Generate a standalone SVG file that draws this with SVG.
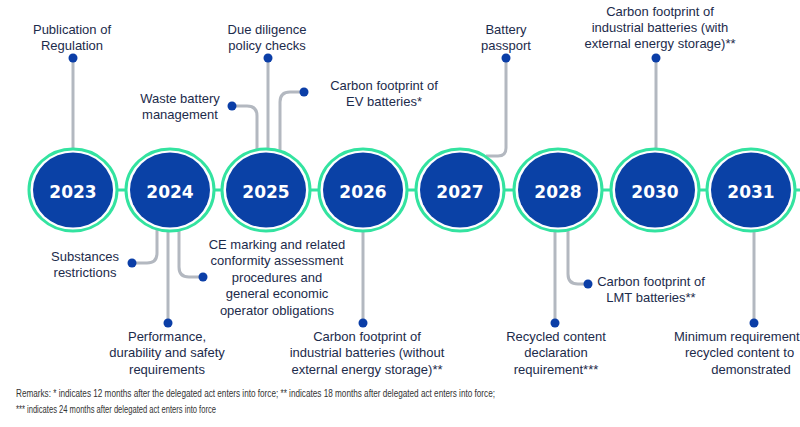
<svg xmlns="http://www.w3.org/2000/svg" width="800" height="427" viewBox="0 0 800 427">
<defs>
<style>
.lbl{font-family:"Liberation Sans",Arial,sans-serif;font-size:13px;fill:#1c2b4b;text-anchor:middle}
.yr{font-family:"DejaVu Sans",sans-serif;font-weight:bold;font-size:17px;fill:#ffffff;text-anchor:middle}
.conn{fill:none;stroke:#b3b8c0;stroke-width:3}
.tl{fill:none;stroke:#33e3a0;stroke-width:3}
.dot{fill:#0b3ea7}
.ring{fill:#ffffff;stroke:#33e3a0;stroke-width:3}
.core{fill:#0a41a6}
.rem{font-family:"Liberation Sans",Arial,sans-serif;font-size:11px;fill:#333333}
</style>
</defs>
<rect width="800" height="427" fill="#ffffff"/>
<g id="connectors">
<line class="tl" x1="73" y1="190" x2="800" y2="190"/>
<path class="conn" d="M73,58 V150"/>
<path class="conn" d="M232,106 H247 Q257,106 257,116 V150"/>
<path class="conn" d="M268,58 V150"/>
<path class="conn" d="M304,92 H290 Q280,92 280,102 V150"/>
<path class="conn" d="M506,58 V148 Q506,156 498,156 H486"/>
<path class="conn" d="M656,58 V150"/>
<path class="conn" d="M157,228 V253 Q157,263 147,263 H132"/>
<path class="conn" d="M168,228 V323"/>
<path class="conn" d="M179,228 V267 Q179,277 189,277 H203"/>
<path class="conn" d="M363,228 V323"/>
<path class="conn" d="M555,228 V323"/>
<path class="conn" d="M568,228 V274 Q568,284 578,284 H588"/>
<path class="conn" d="M754,228 V323"/>
</g>
<g id="y2023"><ellipse class="ring" cx="73" cy="190" rx="44" ry="41"/><ellipse class="core" cx="73" cy="190" rx="40" ry="37.5"/><text class="yr" x="73" y="198">2023</text></g>
<g id="y2024"><ellipse class="ring" cx="170" cy="190" rx="44" ry="41"/><ellipse class="core" cx="170" cy="190" rx="40" ry="37.5"/><text class="yr" x="170" y="198">2024</text></g>
<g id="y2025"><ellipse class="ring" cx="266" cy="190" rx="44" ry="41"/><ellipse class="core" cx="266" cy="190" rx="40" ry="37.5"/><text class="yr" x="266" y="198">2025</text></g>
<g id="y2026"><ellipse class="ring" cx="363" cy="190" rx="44" ry="41"/><ellipse class="core" cx="363" cy="190" rx="40" ry="37.5"/><text class="yr" x="363" y="198">2026</text></g>
<g id="y2027"><ellipse class="ring" cx="460" cy="190" rx="44" ry="41"/><ellipse class="core" cx="460" cy="190" rx="40" ry="37.5"/><text class="yr" x="460" y="198">2027</text></g>
<g id="y2028"><ellipse class="ring" cx="558" cy="190" rx="44" ry="41"/><ellipse class="core" cx="558" cy="190" rx="40" ry="37.5"/><text class="yr" x="558" y="198">2028</text></g>
<g id="y2030"><ellipse class="ring" cx="655" cy="190" rx="44" ry="41"/><ellipse class="core" cx="655" cy="190" rx="40" ry="37.5"/><text class="yr" x="655" y="198">2030</text></g>
<g id="y2031"><ellipse class="ring" cx="751" cy="190" rx="44" ry="41"/><ellipse class="core" cx="751" cy="190" rx="40" ry="37.5"/><text class="yr" x="751" y="198">2031</text></g>

<g id="ev-publication"><circle class="dot" cx="73" cy="58" r="4.5"/><text class="lbl" x="72" y="34">Publication of</text><text class="lbl" x="72" y="50">Regulation</text></g>
<g id="ev-due-diligence"><circle class="dot" cx="268" cy="58" r="4.5"/><text class="lbl" x="267" y="34">Due diligence</text><text class="lbl" x="267" y="50">policy checks</text></g>
<g id="ev-waste"><circle class="dot" cx="232" cy="106" r="4.5"/><text class="lbl" x="180" y="103">Waste battery</text><text class="lbl" x="180" y="119">management</text></g>
<g id="ev-cf-ev"><circle class="dot" cx="304" cy="92" r="4.5"/><text class="lbl" x="384" y="90">Carbon footprint of</text><text class="lbl" x="384" y="106">EV batteries*</text></g>
<g id="ev-passport"><circle class="dot" cx="506" cy="58" r="4.5"/><text class="lbl" x="506" y="34">Battery</text><text class="lbl" x="506" y="50">passport</text></g>
<g id="ev-cf-ind-with"><circle class="dot" cx="656" cy="58" r="4.5"/><text class="lbl" x="660" y="16">Carbon footprint of</text><text class="lbl" x="660" y="32">industrial batteries (with</text><text class="lbl" x="660" y="48">external energy storage)**</text></g>
<g id="ev-substances"><circle class="dot" cx="132" cy="263" r="4.5"/><text class="lbl" x="85" y="261">Substances</text><text class="lbl" x="85" y="277">restrictions</text></g>
<g id="ev-performance"><circle class="dot" cx="168" cy="323" r="4.5"/><text class="lbl" x="167" y="341">Performance,</text><text class="lbl" x="167" y="357">durability and safety</text><text class="lbl" x="167" y="374">requirements</text></g>
<g id="ev-ce"><circle class="dot" cx="203" cy="277" r="4.5"/><text class="lbl" x="277" y="249">CE marking and related</text><text class="lbl" x="277" y="265">conformity assessment</text><text class="lbl" x="277" y="282">procedures and</text><text class="lbl" x="277" y="298">general economic</text><text class="lbl" x="277" y="315">operator obligations</text></g>
<g id="ev-cf-ind-without"><circle class="dot" cx="363" cy="323" r="4.5"/><text class="lbl" x="367" y="341">Carbon footprint of</text><text class="lbl" x="367" y="357">industrial batteries (without</text><text class="lbl" x="367" y="374">external energy storage)**</text></g>
<g id="ev-recycled-decl"><circle class="dot" cx="555" cy="323" r="4.5"/><text class="lbl" x="556" y="341">Recycled content</text><text class="lbl" x="556" y="357">declaration</text><text class="lbl" x="556" y="374">requirement***</text></g>
<g id="ev-cf-lmt"><circle class="dot" cx="588" cy="284" r="4.5"/><text class="lbl" x="651" y="286">Carbon footprint of</text><text class="lbl" x="651" y="302">LMT batteries**</text></g>
<g id="ev-min-recycled"><circle class="dot" cx="754" cy="323" r="4.5"/><text class="lbl" x="674" y="341" style="text-anchor:start">Minimum requirement</text><text class="lbl" x="685" y="357" style="text-anchor:start">recycled content to</text><text class="lbl" x="751" y="374">demonstrated</text></g>

<g id="remarks">
<text class="rem" x="16" y="397" textLength="479" lengthAdjust="spacingAndGlyphs">Remarks: * indicates 12 months after the delegated act enters into force; ** indicates 18 months after delegated act enters into force;</text>
<text class="rem" x="16" y="413" textLength="200" lengthAdjust="spacingAndGlyphs">*** indicates 24 months after delegated act enters into force</text>
</g>
</svg>
